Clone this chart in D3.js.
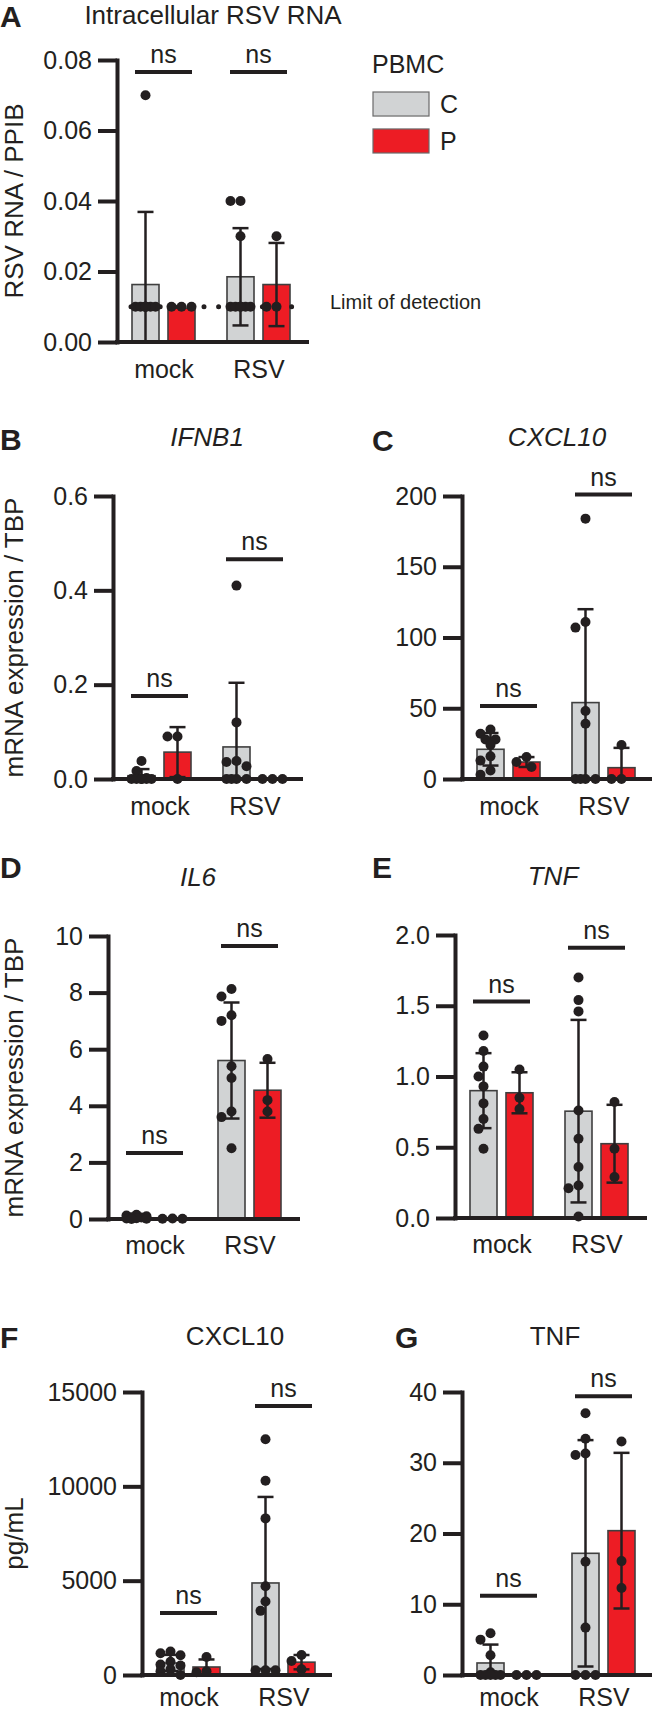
<!DOCTYPE html>
<html><head><meta charset="utf-8">
<script src="https://cdn.jsdelivr.net/npm/d3@7"></script>
<style>
body{margin:0;background:#fff}
svg{display:block;background:#fff}
text{font-family:"Liberation Sans",Arial,sans-serif;fill:#231f20}
</style></head>
<body><svg id="chart" width="652" height="1713"></svg>
<script>
// ---------- data ----------
const groups = ["mock", "RSV"];
const series = ["C", "P"];
const legendTitle = "PBMC";
const lodLabel = "Limit of detection";
const lodValue = 0.01;

// A: intracellular RSV RNA / PPIB
const aTicks = [0, 0.02, 0.04, 0.06, 0.08];
const aMeanC = [0.0163, 0.0185], aMeanP = [0.0096, 0.0163];
const aSdC = [0.0206, 0.0138], aSdP = [0, 0.0118];
const aMockC = [0.07, 0.01, 0.01, 0.01, 0.01, 0.01, 0.01, 0.01, 0.01];
const aMockP = [0.01, 0.01, 0.01];
const aRsvC = [0.04, 0.04, 0.03, 0.01, 0.01, 0.01, 0.01, 0.01, 0.01];
const aRsvP = [0.03, 0.01, 0.01];

// B: IFNB1
const bTicks = [0, 0.2, 0.4, 0.6];
const bMeanC = [0.007, 0.068], bMeanP = [0.057, 0];
const bSdC = [0.014, 0.136], bSdP = [0.053, 0];
const bMockC = [0.038, 0.017, 0.002, 0, 0, 0, 0, 0, 0];
const bMockP = [0.09, 0.09, 0];
const bRsvC = [0.41, 0.12, 0.038, 0.036, 0.027, 0, 0, 0, 0];
const bRsvP = [0, 0, 0];

// C: CXCL10 mRNA
const cTicks = [0, 50, 100, 150, 200];
const cMeanC = [21, 54], cMeanP = [12, 8];
const cSdC = [11.5, 66], cSdP = [3.5, 14];
const cMockC = [35, 32, 28, 28, 24, 16, 13, 6, 3];
const cMockP = [15.5, 12, 8.5];
const cRsvC = [184, 111, 107, 48, 39, 0, 0, 0, 0];
const cRsvP = [24, 0, 0];

// D: IL6
const dTicks = [0, 2, 4, 6, 8, 10];
const dMeanC = [0.06, 5.6], dMeanP = [0.013, 4.55];
const dSdC = [0.05, 2.05], dSdP = [0.006, 0.97];
const dMockC = [0.15, 0.12, 0.1, 0.06, 0.05, 0.03, 0.02, 0.01, 0];
const dMockP = [0.02, 0.01, 0.01];
const dRsvC = [8.13, 7.86, 7.2, 7.0, 5.4, 4.98, 3.8, 3.6, 2.5];
const dRsvP = [5.65, 4.2, 3.8];

// E: TNF mRNA
const eTicks = [0, 0.5, 1, 1.5, 2];
const eMeanC = [0.9, 0.755], eMeanP = [0.885, 0.525];
const eSdC = [0.265, 0.645], eSdP = [0.145, 0.275];
const eMockC = [1.29, 1.18, 1.07, 1.0, 0.93, 0.81, 0.70, 0.63, 0.49];
const eMockP = [1.05, 0.85, 0.77];
const eRsvC = [1.70, 1.54, 1.46, 0.76, 0.56, 0.36, 0.23, 0.21, 0.01];
const eRsvP = [0.82, 0.49, 0.29];

// F: CXCL10 protein pg/mL
const fTicks = [0, 5000, 10000, 15000];
const fMeanC = [636, 4878], fMeanP = [424, 680];
const fSdC = [430, 4560], fSdP = [400, 380];
const fMockC = [1250, 1150, 1050, 700, 550, 500, 300, 200, 0];
const fMockP = [950, 200, 150];
const fRsvC = [12500, 10300, 8300, 4700, 3900, 3400, 250, 250, 250];
const fRsvP = [1060, 740, 300];

// G: TNF protein pg/mL
const gTicks = [0, 10, 20, 30, 40];
const gMeanC = [1.7, 17.2], gMeanP = [0, 20.4];
const gSdC = [2.6, 16], gSdP = [0, 11];
const gMockC = [5.9, 5.0, 2.8, 0.4, 0, 0, 0, 0, 0];
const gMockP = [0, 0, 0];
const gRsvC = [37, 33.4, 31.3, 31.1, 16, 6.7, 0, 0, 0];
const gRsvP = [33, 16.1, 12.3];

// ---------- layout ----------
const BLACK = "#231f20", GRAY = "#d1d3d4", RED = "#ed1c24", OUTLINE = "#3f3f3f";
const fill = {C: GRAY, P: RED};

const panels = [
  {letter:"A", lx:0, ly:27, title:"Intracellular RSV RNA", italic:false, tx:213, ty:24,
   ax:117, yTop:60, yBot:342, xEnd:309, ticks:aTicks, fmt:".2f", ylabel:"RSV RNA / PPIB", xpad:18,
   mean:{C:aMeanC, P:aMeanP}, sd:{C:aSdC, P:aSdP},
   pts:{mock:{C:aMockC, P:aMockP}, RSV:{C:aRsvC, P:aRsvP}}, ns:[0.0766, 0.0766], lod:true},
  {letter:"B", lx:0, ly:450, title:"IFNB1", italic:true, tx:207, ty:446,
   ax:113, yTop:496, yBot:779, xEnd:303, ticks:bTicks, fmt:".1f", ylabel:"mRNA expression / TBP", xpad:18,
   mean:{C:bMeanC, P:bMeanP}, sd:{C:bSdC, P:bSdP},
   pts:{mock:{C:bMockC, P:bMockP}, RSV:{C:bRsvC, P:bRsvP}}, ns:[0.176, 0.466]},
  {letter:"C", lx:372, ly:451, title:"CXCL10", italic:true, tx:557, ty:446,
   ax:462, yTop:496, yBot:779, xEnd:652, ticks:cTicks, fmt:"d", ylabel:null, xpad:18,
   mean:{C:cMeanC, P:cMeanP}, sd:{C:cSdC, P:cSdP},
   pts:{mock:{C:cMockC, P:cMockP}, RSV:{C:cRsvC, P:cRsvP}}, ns:[51.6, 201]},
  {letter:"D", lx:0, ly:878, title:"IL6", italic:true, tx:198, ty:886,
   ax:108, yTop:936, yBot:1219, xEnd:300, ticks:dTicks, fmt:"d", ylabel:"mRNA expression / TBP", xpad:17,
   mean:{C:dMeanC, P:dMeanP}, sd:{C:dSdC, P:dSdP},
   pts:{mock:{C:dMockC, P:dMockP}, RSV:{C:dRsvC, P:dRsvP}}, ns:[2.33, 9.65]},
  {letter:"E", lx:372, ly:878, title:"TNF", italic:true, tx:553, ty:885,
   ax:455, yTop:935, yBot:1218, xEnd:647, ticks:eTicks, fmt:".1f", ylabel:null, xpad:17,
   mean:{C:eMeanC, P:eMeanP}, sd:{C:eSdC, P:eSdP},
   pts:{mock:{C:eMockC, P:eMockP}, RSV:{C:eRsvC, P:eRsvP}}, ns:[1.53, 1.91]},
  {letter:"F", lx:0, ly:1348, title:"CXCL10", italic:false, tx:235, ty:1345,
   ax:142, yTop:1392, yBot:1675, xEnd:332, ticks:fTicks, fmt:"d", ylabel:"pg/mL", xpad:13,
   mean:{C:fMeanC, P:fMeanP}, sd:{C:fSdC, P:fSdP},
   pts:{mock:{C:fMockC, P:fMockP}, RSV:{C:fRsvC, P:fRsvP}}, ns:[3287, 14263]},
  {letter:"G", lx:395, ly:1348, title:"TNF", italic:false, tx:555, ty:1345,
   ax:462, yTop:1392, yBot:1675, xEnd:652, ticks:gTicks, fmt:"d", ylabel:null, xpad:13,
   mean:{C:gMeanC, P:gMeanP}, sd:{C:gSdC, P:gSdP},
   pts:{mock:{C:gMockC, P:gMockP}, RSV:{C:gRsvC, P:gRsvP}}, ns:[11.2, 39.4]}
];

const svg = d3.select("#chart");
const R = 5;

function swarm(values, y, cx) {
  const step = 5, maxOff = 10, thr = 10.5;
  const cands = [0];
  for (let k = 1; k * step <= maxOff; k++) cands.push(-k * step, k * step);
  const items = values.map(v => ({v, y: y(v)})).sort((a, b) => b.v - a.v);
  const placed = [];
  for (const p of items) {
    let best = 0, bestD = -1;
    for (const off of cands) {
      let minD = Infinity;
      for (const q of placed) minD = Math.min(minD, Math.hypot(off - q.off, p.y - q.y));
      if (minD >= thr) { best = off; break; }
      if (minD > bestD) { bestD = minD; best = off; }
    }
    p.off = best; p.x = cx + best; placed.push(p);
  }
  return placed;
}

panels.forEach(P => {
  const g = svg.append("g");
  const y = d3.scaleLinear().domain([0, P.ticks[P.ticks.length - 1]]).range([P.yBot, P.yTop]);
  const x = d3.scalePoint().domain(groups).range([P.ax + 46.5, P.ax + 141.5]);
  const xs = d3.scaleBand().domain(series).range([-31.5, 31.5]).paddingInner(0.25);

  // panel letter & title
  g.append("text").attr("x", P.lx).attr("y", P.ly).attr("font-size", 30).attr("font-weight", "bold").text(P.letter);
  g.append("text").attr("x", P.tx).attr("y", P.ty).attr("font-size", 26).attr("text-anchor", "middle")
    .attr("font-style", P.italic ? "italic" : "normal").text(P.title);
  if (P.ylabel) {
    g.append("text").attr("transform", `translate(23,${(P.yTop + P.yBot) / 2}) rotate(-90)`)
      .attr("text-anchor", "middle").attr("font-size", 26).text(P.ylabel);
  }

  // bars
  const barData = [];
  groups.forEach((grp, gi) => series.forEach(s => barData.push({grp, s, m: P.mean[s][gi], sd: P.sd[s][gi]})));
  g.selectAll("rect.bar").data(barData).join("rect").attr("class", "bar")
    .attr("x", d => x(d.grp) + xs(d.s)).attr("width", xs.bandwidth())
    .attr("y", d => y(d.m)).attr("height", d => y(0) - y(d.m))
    .attr("fill", d => fill[d.s]).attr("stroke", OUTLINE).attr("stroke-width", 1.6);

  // limit of detection line
  if (P.lod) {
    g.append("line").attr("x1", P.ax + 14).attr("x2", P.xEnd - 4).attr("y1", y(lodValue)).attr("y2", y(lodValue))
      .attr("stroke", BLACK).attr("stroke-width", 5).attr("stroke-linecap", "round").attr("stroke-dasharray", "0 14.6");
    g.append("text").attr("x", 330).attr("y", y(lodValue) + 2.5).attr("font-size", 20).text(lodLabel);
  }

  // error bars
  barData.filter(d => d.sd > 0).forEach(d => {
    const cx = x(d.grp) + xs(d.s) + xs.bandwidth() / 2;
    const lo = Math.max(0, d.m - d.sd), hi = d.m + d.sd;
    g.append("line").attr("x1", cx).attr("x2", cx).attr("y1", y(lo)).attr("y2", y(hi))
      .attr("stroke", BLACK).attr("stroke-width", 2.5);
    g.append("line").attr("x1", cx - 8).attr("x2", cx + 8).attr("y1", y(hi)).attr("y2", y(hi))
      .attr("stroke", BLACK).attr("stroke-width", 2.5);
    if (d.m - d.sd > 0) {
      g.append("line").attr("x1", cx - 8).attr("x2", cx + 8).attr("y1", y(lo)).attr("y2", y(lo))
        .attr("stroke", BLACK).attr("stroke-width", 2.5);
    }
  });

  // points
  groups.forEach(grp => series.forEach(s => {
    const cx = x(grp) + xs(s) + xs.bandwidth() / 2;
    const pts = swarm(P.pts[grp][s], y, cx);
    g.selectAll(null).data(pts).join("circle")
      .attr("cx", d => d.x).attr("cy", d => d.y).attr("r", R).attr("fill", BLACK);
  }));

  // y axis
  const yAxis = g.append("g").attr("transform", `translate(${P.ax},0)`)
    .call(d3.axisLeft(y).tickValues(P.ticks).tickFormat(d3.format(P.fmt)).tickSize(19).tickSizeOuter(0).tickPadding(6));
  yAxis.select(".domain").attr("stroke", BLACK).attr("stroke-width", 4).attr("stroke-linecap", "square");
  yAxis.selectAll(".tick line").attr("stroke", BLACK).attr("stroke-width", 4);
  yAxis.selectAll(".tick text").attr("font-size", 25).attr("font-family", "Liberation Sans, Arial, sans-serif").attr("fill", BLACK);

  // x axis
  g.append("line").attr("x1", P.ax - 2).attr("x2", P.xEnd).attr("y1", y(0)).attr("y2", y(0))
    .attr("stroke", BLACK).attr("stroke-width", 4);
  const xAxis = g.append("g").attr("transform", `translate(0,${P.yBot})`)
    .call(d3.axisBottom(x).tickSize(0).tickPadding(P.xpad));
  xAxis.select(".domain").remove();
  xAxis.selectAll(".tick text").attr("font-size", 25).attr("font-family", "Liberation Sans, Arial, sans-serif").attr("fill", BLACK);

  // significance
  groups.forEach((grp, gi) => {
    const cx = x(grp), yy = y(P.ns[gi]);
    g.append("line").attr("x1", cx - 28.5).attr("x2", cx + 28.5).attr("y1", yy).attr("y2", yy)
      .attr("stroke", BLACK).attr("stroke-width", 4);
    g.append("text").attr("x", cx).attr("y", yy - 9).attr("text-anchor", "middle").attr("font-size", 25).text("ns");
  });
});

// legend
const leg = svg.append("g");
leg.append("text").attr("x", 372).attr("y", 73).attr("font-size", 25).text(legendTitle);
const ly = d3.scaleBand().domain(series).range([92, 153]).paddingInner(0.35);
leg.selectAll("rect").data(series).join("rect")
  .attr("x", 373).attr("y", d => ly(d)).attr("width", 56).attr("height", ly.bandwidth())
  .attr("fill", d => fill[d]).attr("stroke", "#6a6a6a").attr("stroke-width", 1.2);
leg.selectAll("text.lab").data(series).join("text").attr("class", "lab")
  .attr("x", 440).attr("y", d => ly(d) + ly.bandwidth() / 2 + 9).attr("font-size", 25).text(d => d);
</script></body></html>
